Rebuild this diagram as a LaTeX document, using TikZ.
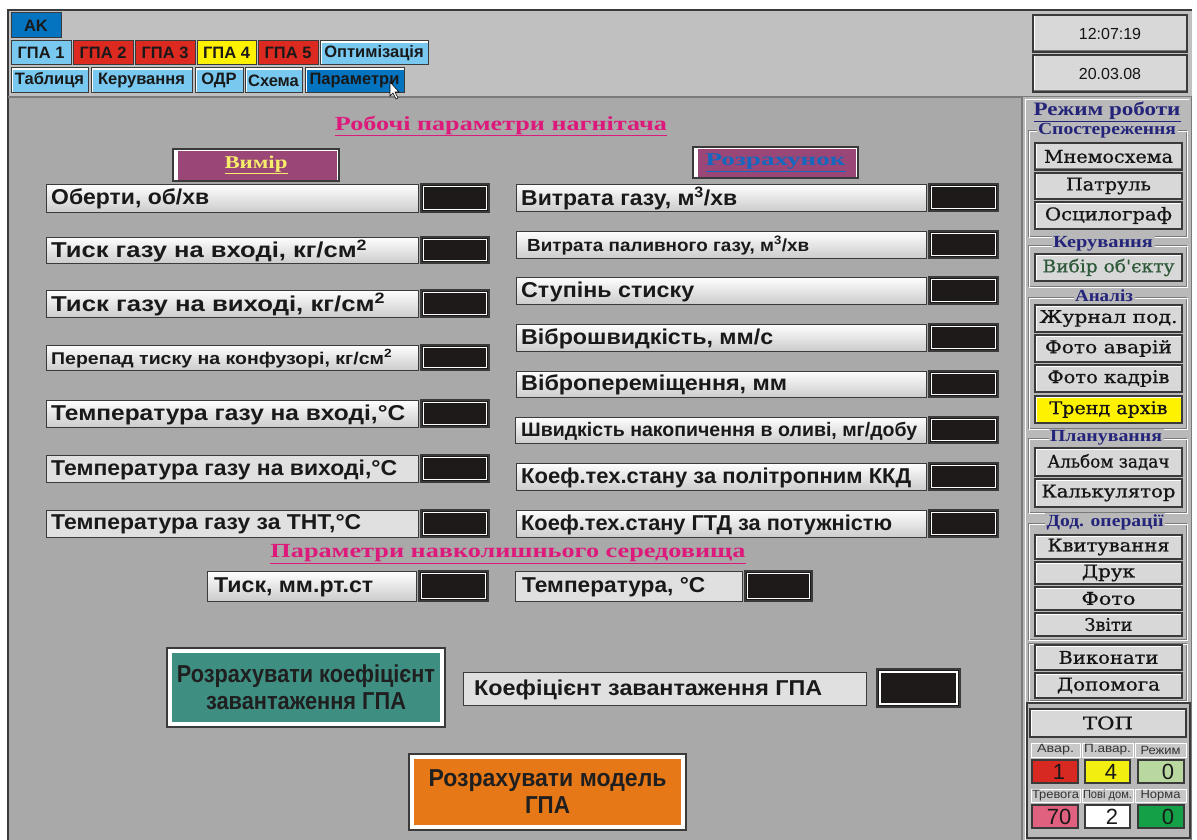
\documentclass[tikz,border=0pt]{standalone}
\usepackage{fontspec}
\setmainfont{Liberation Sans}
\newfontfamily\fserif{Liberation Serif}
\newfontfamily\fdserif[FakeBold=0.7]{DejaVu Serif}
\newfontfamily\fnarrow[FakeStretch=0.8]{Liberation Sans}
\definecolor{topbg}{HTML}{C0C0C0}
\definecolor{mainbg}{HTML}{A9A9A9}
\definecolor{rpbg}{HTML}{B9B9B9}
\definecolor{pinkt}{HTML}{DD1A7C}
\definecolor{purp}{HTML}{9A4676}
\definecolor{yelt}{HTML}{F6EE6A}
\definecolor{bluet}{HTML}{1468C0}
\definecolor{cteal}{HTML}{3F8E82}
\definecolor{corange}{HTML}{E77817}
\definecolor{cval}{HTML}{1E1A1A}
\definecolor{cdark}{HTML}{3A3A3A}
\definecolor{cmid}{HTML}{7A7A7A}
\definecolor{cnavy}{HTML}{24247A}
\definecolor{cgreen}{HTML}{2F5A3A}
\definecolor{tabblue}{HTML}{78C8F0}
\definecolor{tabred}{HTML}{DC2A20}
\definecolor{tabyel}{HTML}{FFF200}
\definecolor{tabdark}{HTML}{0474C0}
\definecolor{btngray}{HTML}{D8D8D8}
\definecolor{lblgray}{HTML}{E0E0E0}
\definecolor{lbgrad}{HTML}{CCCCCC}
\definecolor{smgray}{HTML}{C8C8C8}
\definecolor{vred}{HTML}{D82822}
\definecolor{vyel}{HTML}{F2EE10}
\definecolor{vlgreen}{HTML}{B8D8A0}
\definecolor{vpink}{HTML}{E06080}
\definecolor{vgreen}{HTML}{14A046}
\newcommand\rw[2]{\resizebox{#1pt}{\height}{#2}}
\newcommand\lf{\bfseries\fontsize{21.5}{23}\selectfont}
\newcommand\fs[1]{\fontsize{#1}{#1}\selectfont}
% name, style, x1, y1, x2, y2, vx1, vx2, text
\newcommand\fld[9]{%
  \node[#2,corners={#3}{#4}{#5}{#6}] (#1) {};
  \node[ltxt,anchor=west] (#1-t) at ([xshift=5pt,yshift=-1pt]#1.west) {#9};
  \node[valbox,corners={#7}{#4}{#8}{#6}] (#1-v) {};}
% name, y1, y2, text width, fill, text
\newcommand\rb[6]{\node[rbtn,fill=#5,corners={1035}{#2}{1182}{#3}] (#1) {\rw{#4}{#6}};}
\begin{document}
\begin{tikzpicture}[x=1pt,y=-1pt,
  corners/.style n args={4}{at={(#1,#2)},anchor=north west,minimum width={(#3-(#1))*1pt},minimum height={(#4-(#2))*1pt},inner sep=0pt,outer sep=0pt},
  lbl/.style={draw=cdark,line width=1pt,top color=white,middle color=white!90!lbgrad,bottom color=lbgrad},
  lblflat/.style={draw=cdark,line width=1pt,fill=lblgray},
  ltxt/.style={inner sep=0pt,text=black!90,font=\lf},
  valbox/.style={fill=cval,draw=cdark,line width=1.2pt,path picture={\draw[white,line width=1.3pt] ([shift={(2.4pt,2.4pt)}]path picture bounding box.south west) rectangle ([shift={(-2.4pt,-2.4pt)}]path picture bounding box.north east);}},
  bigval/.style={fill=cval,draw=cdark,line width=1.2pt,path picture={\draw[white,line width=2pt] ([shift={(3pt,3pt)}]path picture bounding box.south west) rectangle ([shift={(-3pt,-3pt)}]path picture bounding box.north east);}},
  hdr/.style={fill=purp,draw=cdark,line width=1.2pt,path picture={\fill[white] (path picture bounding box.south west) rectangle ([xshift=5pt]path picture bounding box.north west); \fill[white] ([yshift=-2.5pt]path picture bounding box.north west) rectangle (path picture bounding box.north east); \fill[white] ([xshift=-2.5pt]path picture bounding box.south east) rectangle (path picture bounding box.north east);}},
  tab/.style={draw=cdark,line width=1pt,text=black!90,font=\bfseries\fontsize{16.5}{18}\selectfont},
  tabw/.style={path picture={\draw[white,line width=4pt] (path picture bounding box.south west) -- (path picture bounding box.north west) -- (path picture bounding box.north east);}},
  bigbtn/.style={draw=cdark,line width=1.2pt,path picture={\draw[white,line width=10pt] (path picture bounding box.south west) rectangle (path picture bounding box.north east);}},
  rbtn/.style={draw=cdark,line width=1.2pt,text=black!92,font=\fdserif\fontsize{17.5}{18}\selectfont,path picture={\draw[white,line width=3pt] (path picture bounding box.south west) -- (path picture bounding box.north west) -- (path picture bounding box.north east); \draw[cmid,line width=3pt] (path picture bounding box.north east) -- (path picture bounding box.south east) -- (path picture bounding box.south west);}},
  grp/.style={fill=rpbg,inner sep=1.5pt,text=cnavy,font=\fserif\bfseries\fontsize{17}{18}\selectfont},
  etch/.style={draw=cmid,line width=1pt},
  etchw/.style={draw=white,line width=1pt},
  smlbl/.style={fill=smgray,draw=white,line width=0.6pt,text=black!80,font=\fontsize{12}{12}\selectfont},
  vbx/.style={draw=cdark,line width=1.2pt},
  vtxt/.style={inner sep=0pt,text=black!90,font=\fontsize{22}{22}\selectfont},
  ttl/.style={inner sep=0pt,text=pinkt,font=\fserif\bfseries\fontsize{20}{22}\selectfont}
]
\useasboundingbox (0,0) rectangle (1197,840);
\fill[white] (0,0) rectangle (1197,840);
% backgrounds
\fill[topbg] (8,10) rectangle (1192,97);
\fill[mainbg] (8,97) rectangle (1022,840);
\fill[rpbg] (1022,97) rectangle (1192,840);
\draw[cdark,line width=1.2pt] (8,840) -- (8,10) -- (1192,10);
\draw[cmid,line width=1.2pt] (8,97) -- (1022,97);
\draw[cmid,line width=1.2pt] (1022,97) -- (1022,840);
\draw[white,line width=1pt] (1025,100) -- (1189,100);
\draw[cmid,line width=1pt] (1022,97) -- (1192,97);
\draw[cmid,line width=1pt] (1191,97) -- (1191,840);
\draw[white,line width=1pt] (1025,100) -- (1025,840);

% tabs
\node[tab,fill=tabdark,corners={11}{13}{61}{38}] (ak) {AK};
\node[tab,fill=tabblue,corners={11}{41}{71}{65}] (g1) {ГПА 1};
\node[tab,fill=tabred,corners={73}{41}{133}{65}] (g2) {ГПА 2};
\node[tab,fill=tabred,corners={135}{41}{195}{65}] (g3) {ГПА 3};
\node[tab,fill=tabyel,corners={197}{41}{256}{65}] (g4) {ГПА 4};
\node[tab,fill=tabred,corners={258}{41}{318}{65}] (g5) {ГПА 5};
\node[tab,tabw,fill=tabblue,corners={320}{41}{428}{65}] (opt) {Оптимізація};
\node[tab,tabw,fill=tabblue,corners={11}{68}{88}{93}] (tbl) {Таблиця};
\node[tab,tabw,fill=tabblue,corners={91}{68}{192}{93}] (ker) {Керування};
\node[tab,tabw,fill=tabblue,corners={195}{68}{243}{93}] (odr) {ОДР};
\node[tab,tabw,fill=tabblue,corners={245}{68}{302}{93}] (sch) {Схема};
\node[tab,tabw,fill=tabdark,corners={305}{68}{404}{93}] (par) {Параметри};
% cursor
\draw[black,fill=white,line width=0.6pt] (390,82) -- (390,96) -- (393,93) -- (396,99) -- (398,98) -- (395,92) -- (399,92) -- cycle;

% clock
\node[rbtn,fill=btngray,font=\fontsize{16}{16}\selectfont,corners={1033}{15}{1187}{52}] (time) {12:07:19};
\node[rbtn,fill=btngray,font=\fontsize{16}{16}\selectfont,corners={1033}{55}{1187}{92}] (date) {20.03.08};

% titles
\node[ttl] (t1) at (501,126) {\rw{332}{\underline{Робочі параметри нагнітача}}};
\node[hdr,corners={173}{149}{339}{181},text=yelt,font=\fserif\bfseries\fontsize{18}{20}\selectfont] (vym) {\rw{63}{\underline{Вимір}}};
\node[hdr,corners={693}{147}{858}{178},text=bluet,font=\fserif\bfseries\fontsize{18}{20}\selectfont] (roz) {\rw{140}{\underline{Розрахунок}}};

% left column
\fld{a1}{lbl}{46}{184}{418}{212}{421}{489}{\rw{158}{Оберти, об/хв}}
\fld{a2}{lbl}{46}{237}{418}{263}{421}{489}{\rw{316}{Тиск газу на вході, кг/см\textsuperscript{2}}}
\fld{a3}{lbl}{46}{290}{418}{317}{421}{489}{\rw{334}{Тиск газу на виході, кг/см\textsuperscript{2}}}
\fld{a4}{lbl}{46}{345}{418}{370}{421}{489}{\fs{17}\rw{341}{Перепад тиску на конфузорі, кг/см\textsuperscript{2}}}
\fld{a5}{lbl}{46}{400}{418}{427}{421}{489}{\rw{354}{Температура газу на вході,°С}}
\fld{a6}{lblflat}{46}{455}{418}{482}{421}{489}{\rw{346}{Температура газу на виході,°С}}
\fld{a7}{lblflat}{46}{510}{418}{537}{421}{489}{\rw{310}{Температура газу за ТНТ,°С}}

% right column
\fld{b1}{lbl}{516}{184}{926}{211}{929}{998}{\rw{216}{Витрата газу, м\textsuperscript{3}/хв}}
\fld{b2}{lbl}{516}{231}{926}{258}{929}{998}{\hspace{6pt}\fs{17.5}\rw{282}{Витрата паливного газу, м\textsuperscript{3}/хв}}
\fld{b3}{lbl}{516}{277}{926}{304}{929}{998}{\rw{173}{Ступінь стиску}}
\fld{b4}{lbl}{516}{324}{926}{351}{929}{998}{\rw{252}{Віброшвидкість, мм/с}}
\fld{b5}{lbl}{516}{371}{926}{397}{929}{998}{\rw{266}{Вібропереміщення, мм}}
\fld{b6}{lbl}{515}{417}{926}{443}{929}{998}{\hspace{1pt}\fs{19.5}\rw{396}{Швидкість накопичення в оливі, мг/добу}}
\fld{b7}{lbl}{516}{463}{926}{490}{929}{998}{\rw{390}{Коеф.тех.стану за політропним ККД}}
\fld{b8}{lbl}{516}{510}{926}{537}{929}{998}{\rw{371}{Коеф.тех.стану ГТД за потужністю}}

% environment
\node[ttl] (t2) at (508,554) {\rw{475}{\underline{Параметри навколишнього середовища}}};
\fld{c1}{lbl}{207}{571}{416}{601}{419}{488}{\hspace{2pt}\rw{159}{Тиск, мм.рт.ст}}
\fld{c2}{lblflat}{515}{571}{742}{601}{745}{812}{\hspace{2pt}\rw{183}{Температура, °С}}

% load coefficient
\node[bigbtn,fill=cteal,corners={167}{648}{445}{727},text=black!88,font=\fnarrow\bfseries\fontsize{24.5}{28}\selectfont,align=center] (calc1) {\rw{258}{Розрахувати коефіцієнт}\\[-1pt]\rw{200}{завантаження ГПА}};
\node[lblflat,corners={463}{672}{866}{705}] (kz) {};
\node[ltxt,anchor=west] (kz-t) at ([xshift=11pt,yshift=-1pt]kz.west) {\rw{348}{Коефіцієнт завантаження ГПА}};
\node[bigval,corners={877}{669}{960}{707}] (kz-v) {};
\node[bigbtn,fill=corange,corners={409}{754}{686}{830},text=black!88,font=\fnarrow\bfseries\fontsize{24.5}{28}\selectfont,align=center] (calc2) {\rw{238}{Розрахувати модель}\\[-1pt]\rw{45}{ГПА}};

% right panel
\node[inner sep=0pt,text=cnavy,font=\fserif\bfseries\fontsize{19}{21}\selectfont] (mode) at (1107,112) {\rw{147}{\underline{Режим роботи}}};
\draw[etch] (1028,131) rectangle (1186,236); \draw[etchw] (1029,132) rectangle (1187,237);
\draw[etch] (1028,245) rectangle (1186,286); \draw[etchw] (1029,246) rectangle (1187,287);
\draw[etch] (1028,297) rectangle (1186,428); \draw[etchw] (1029,298) rectangle (1187,429);
\draw[etch] (1028,438) rectangle (1186,512); \draw[etchw] (1029,439) rectangle (1187,513);
\draw[etch] (1028,523) rectangle (1186,639); \draw[etchw] (1029,524) rectangle (1187,640);
\draw[etch] (1028,643) rectangle (1186,700); \draw[etchw] (1029,644) rectangle (1187,701);
\node[grp] (gl1) at (1107,131) {\rw{138}{Спостереження}};
\node[grp] (gl2) at (1103,244) {\rw{100}{Керування}};
\node[grp] (gl3) at (1104,296) {\rw{58}{Аналіз}};
\node[grp] (gl4) at (1106,438) {\rw{112}{Планування}};
\node[grp] (gl5) at (1105,522) {\rw{117}{Дод. операції}};
\rb{m1}{143}{170}{129}{btngray}{Мнемосхема}
\rb{m2}{173}{199}{85}{btngray}{Патруль}
\rb{m3}{202}{229}{127}{btngray}{Осцилограф}
\rb{k1}{254}{281}{132}{btngray}{\color{cgreen}Вибір об'єкту}
\rb{an1}{305}{332}{138}{btngray}{Журнал под.}
\rb{an2}{335}{362}{127}{btngray}{Фото аварій}
\rb{an3}{365}{392}{122}{btngray}{Фото кадрів}
\rb{an4}{396}{423}{118}{yellow}{Тренд архів}
\rb{p1}{448}{476}{122}{btngray}{Альбом задач}
\rb{p2}{479}{507}{134}{btngray}{Калькулятор}
\rb{d1}{535}{559}{122}{btngray}{Квитування}
\rb{d2}{562}{584}{53}{btngray}{Друк}
\rb{d3}{587}{610}{54}{btngray}{Фото}
\rb{d4}{613}{636}{48}{btngray}{Звіти}
\rb{e1}{645}{670}{100}{btngray}{Виконати}
\rb{e2}{673}{698}{103}{btngray}{Допомога}

% TOP block
\draw[cdark,line width=1.5pt] (1027,703) rectangle (1190,838);
\node[rbtn,fill=btngray,corners={1030}{709}{1186}{737}] (top) {\rw{50}{ТОП}};
\node[smlbl,corners={1031}{743}{1080}{757}] (l1) {\rw{37}{Авар.}};
\node[smlbl,corners={1082}{743}{1133}{757}] (l2) {\rw{47}{П.авар.}};
\node[smlbl,corners={1135}{743}{1186}{757}] (l3) {\rw{40}{Режим}};
\node[vbx,fill=vred,corners={1032}{760}{1078}{783}] (v1) {};
\node[vbx,fill=vyel,corners={1085}{760}{1130}{783}] (v2) {};
\node[vbx,fill=vlgreen,corners={1138}{760}{1184}{783}] (v3) {};
\node[vtxt] at (1059,772) {1};
\node[vtxt] at (1111,772) {4};
\node[vtxt] at (1168,772) {0};
\node[smlbl,corners={1031}{789}{1080}{802}] (l4) {\rw{47}{Тревога}};
\node[smlbl,corners={1082}{789}{1133}{802}] (l5) {\rw{49}{Пові дом.}};
\node[smlbl,corners={1135}{789}{1186}{802}] (l6) {\rw{40}{Норма}};
\node[vbx,fill=vpink,corners={1032}{805}{1078}{828}] (v4) {};
\node[vbx,fill=white,corners={1085}{805}{1130}{828}] (v5) {};
\node[vbx,fill=vgreen,corners={1138}{805}{1184}{828}] (v6) {};
\node[vtxt] at (1059,817) {70};
\node[vtxt] at (1112,817) {2};
\node[vtxt] at (1168,817) {0};
\end{tikzpicture}
\end{document}
